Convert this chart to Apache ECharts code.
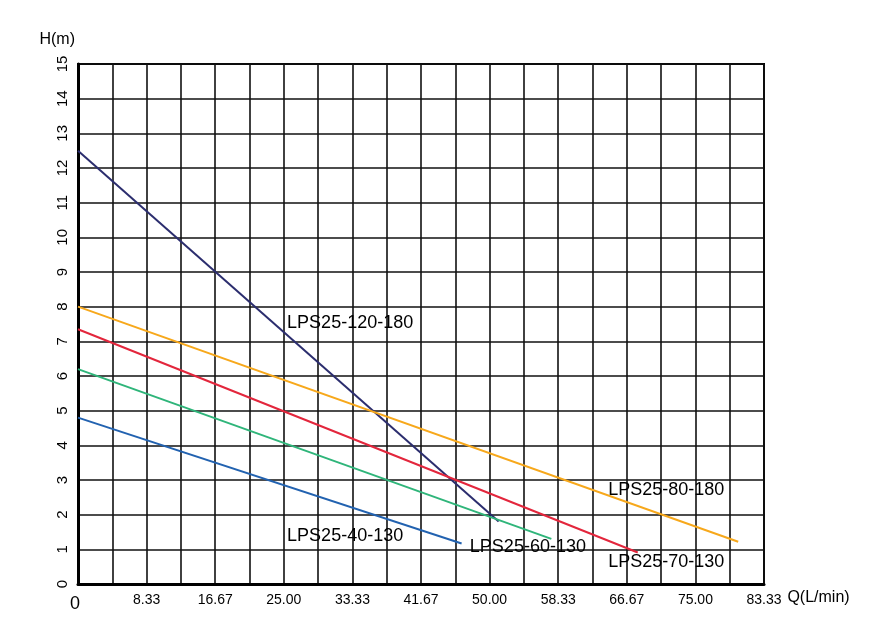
<!DOCTYPE html>
<html>
<head>
<meta charset="utf-8">
<script src="https://cdn.jsdelivr.net/npm/echarts@6/dist/echarts.min.js"></script>
<style>html,body{margin:0;padding:0;background:#fff;}#c{width:874px;height:640px;}</style>
</head>
<body>
<div id="c"></div>
<script>
// Tick labels
var xTickLabels = ['0','8.33','16.67','25.00','33.33','41.67','50.00','58.33','66.67','75.00','83.33'];
var yMax = 15;
// Series names
var seriesNames = ['LPS25-120-180','LPS25-80-180','LPS25-70-130','LPS25-60-130','LPS25-40-130'];
// Flow (L/min) and head (m) values per curve
var q120 = [0, 51.1],  h120 = [12.5, 1.8];
var q80  = [0, 80.2],  h80  = [8.0, 1.22];
var q70  = [0, 68.0],  h70  = [7.35, 0.91];
var q60  = [0, 57.5],  h60  = [6.2, 1.30];
var q40  = [0, 46.6],  h40  = [4.8, 1.17];
// Label anchor positions (data units)
var labelQ = [25.4, 64.4, 64.4, 47.6, 25.4];
var labelH = [7.53, 2.70, 0.62, 1.07, 1.38];

var colors = ['#2b2d6e','#f7a81b','#e3263c','#2fb57a','#2262b0'];
var qs = [q120,q80,q70,q60,q40], hs = [h120,h80,h70,h60,h40];

function pairs(q,h){ return q.map(function(v,i){ return [v,h[i]]; }); }

var series = seriesNames.map(function(n,i){
  return {
    name: n, type: 'line', data: pairs(qs[i], hs[i]),
    symbol: 'none', lineStyle: {color: colors[i], width: 2}, silent: true, z: 3
  };
});
series.push({
  type: 'scatter', symbolSize: 0, silent: true, z: 5,
  itemStyle: {opacity: 1},
  data: seriesNames.map(function(n,i){ return [labelQ[i], labelH[i], n]; }),
  label: {
    show: true, position: 'right', distance: 0, opacity: 1,
    formatter: function(p){ return p.data[2]; },
    color: '#000', fontSize: 18, fontFamily: 'Liberation Sans, Arial, sans-serif'
  }
});

var step = 25/6;
var chart = echarts.init(document.getElementById('c'), null, {renderer: 'canvas'});
chart.setOption({
  animation: false,
  backgroundColor: '#fff',
  grid: {left: 78, right: 110, top: 64, bottom: 56, show: true, borderColor: '#000', borderWidth: 2, backgroundColor: 'transparent'},
  xAxis: {
    type: 'value', min: 0, max: 250/3, interval: step,
    name: 'Q(L/min)', nameLocation: 'end', nameGap: 22,
    nameTextStyle: {color: '#000', fontSize: 16, fontFamily: 'Liberation Sans, Arial, sans-serif', align: 'left', verticalAlign: 'top', padding: [6,0,0,0]},
    axisLine: {show: true, lineStyle: {color: '#000', width: 3}},
    axisTick: {show: false},
    splitLine: {show: true, lineStyle: {color: '#111', width: 1.6}},
    axisLabel: {
      show: true, margin: 9, color: '#000', fontSize: 14, fontFamily: 'Liberation Sans, Arial, sans-serif',
      showMinLabel: true, showMaxLabel: true, interval: 0,
      formatter: function(v){
        var k = Math.round(v/step);
        if (k % 2 !== 0) return '';
        if (k === 0) return '{big|' + xTickLabels[0] + '}';
        return xTickLabels[k/2] || '';
      },
      rich: {big: {fontSize: 18, color: '#000', fontFamily: 'Liberation Sans, Arial, sans-serif', padding: [2,6,0,0]}}
    }
  },
  yAxis: {
    type: 'value', min: 0, max: yMax, interval: 1,
    name: 'H(m)', nameLocation: 'end', nameGap: 16,
    nameTextStyle: {color: '#000', fontSize: 16, fontFamily: 'Liberation Sans, Arial, sans-serif', align: 'right', verticalAlign: 'bottom', padding: [0,3,0,0]},
    axisLine: {show: true, lineStyle: {color: '#000', width: 3}},
    axisTick: {show: false},
    splitLine: {show: true, lineStyle: {color: '#111', width: 1.6}},
    axisLabel: {show: true, rotate: 90, margin: 8, color: '#000', fontSize: 15, fontFamily: 'Liberation Sans, Arial, sans-serif'}
  },
  series: series
});
</script>
</body>
</html>
